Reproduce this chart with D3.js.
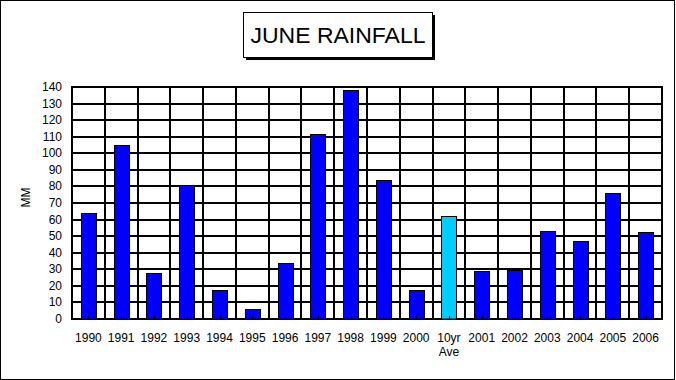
<!DOCTYPE html>
<html>
<head>
<meta charset="utf-8">
<script src="https://cdn.jsdelivr.net/npm/d3@7"></script>
<style>
  html, body { margin: 0; padding: 0; background: #fff; }
  svg { display: block; font-family: "Liberation Sans", Arial, sans-serif; }
</style>
</head>
<body>
<svg id="chart" width="676" height="380"></svg>
<script>
const categories = ["1990","1991","1992","1993","1994","1995","1996","1997","1998","1999","2000","10yr Ave","2001","2002","2003","2004","2005","2006"];
const rainfall = [64, 105, 28, 81, 17.3, 6, 33.6, 111.5, 138, 83.6, 17.3, 62, 29, 29.4, 53, 47, 76, 52.5];
const highlight = ["10yr Ave"];
const yTicks = [0,10,20,30,40,50,60,70,80,90,100,110,120,130,140];
const title = "JUNE RAINFALL";
const yTitle = "MM";

const svg = d3.select("#chart");
const plot = {left: 72, right: 662, top: 87, bottom: 319};

// outer frame
svg.append("rect").attr("x", 0.5).attr("y", 0.5).attr("width", 674).attr("height", 379)
  .attr("fill", "#fff").attr("stroke", "#000").attr("stroke-width", 1);

const y = d3.scaleLinear().domain([0, 140]).range([plot.bottom, plot.top]);
const xCat = d3.scaleBand().domain(categories).range([plot.left, plot.right]).padding(0);
const xBar = d3.scaleBand().domain(categories).range([plot.left, plot.right])
  .paddingInner(0.54).paddingOuter(0.27);

// grid: horizontal
svg.append("g").selectAll("line").data(yTicks).join("line")
  .attr("x1", plot.left).attr("x2", plot.right)
  .attr("y1", d => Math.round(y(d))).attr("y2", d => Math.round(y(d)))
  .attr("stroke", "#000").attr("stroke-width", 2);

// grid: vertical
const vEdges = categories.map(c => xCat(c)).concat([xCat.range()[1]]);
svg.append("g").selectAll("line").data(vEdges).join("line")
  .attr("x1", d => Math.round(d)).attr("x2", d => Math.round(d))
  .attr("y1", plot.top - 1).attr("y2", plot.bottom + 1)
  .attr("stroke", "#000").attr("stroke-width", 2);

// bars
svg.append("g").selectAll("rect").data(categories).join("rect")
  .attr("x", c => Math.round(xBar(c)) + 0.5)
  .attr("y", (c, i) => Math.round(y(rainfall[i])) + 0.5)
  .attr("width", Math.round(xBar.bandwidth()))
  .attr("height", (c, i) => Math.round(y(0)) - Math.round(y(rainfall[i])) - 0.5)
  .attr("fill", c => highlight.includes(c) ? "#00CCFF" : "#0000FF")
  .attr("stroke", "#000").attr("stroke-width", 1);

// small x ticks at category centers
svg.append("g").selectAll("line").data(categories).join("line")
  .attr("x1", c => Math.round(xCat(c) + xCat.bandwidth() / 2) + 0.5)
  .attr("x2", c => Math.round(xCat(c) + xCat.bandwidth() / 2) + 0.5)
  .attr("y1", plot.bottom - 3).attr("y2", plot.bottom)
  .attr("stroke", "#000").attr("stroke-width", 1);

// y tick labels
svg.append("g").selectAll("text").data(yTicks).join("text")
  .attr("x", 62).attr("y", d => y(d) + 4)
  .attr("text-anchor", "end").attr("font-size", 12).attr("fill", "#000")
  .text(d => d);

// x tick labels (multi-line)
const xl = svg.append("g").selectAll("text").data(categories).join("text")
  .attr("x", c => xCat(c) + xCat.bandwidth() / 2)
  .attr("y", 342)
  .attr("text-anchor", "middle").attr("font-size", 12).attr("fill", "#000");
xl.each(function(c) {
  const parts = c.split(" ");
  const t = d3.select(this);
  parts.forEach((p, i) => {
    t.append("tspan").attr("x", xCat(c) + xCat.bandwidth() / 2)
      .attr("dy", i === 0 ? 0 : 14).text(p);
  });
});

// y axis title
svg.append("text").attr("transform", "translate(30,197.5) rotate(-90)")
  .attr("text-anchor", "middle").attr("font-size", 12).attr("fill", "#000")
  .text(yTitle);

// title box with shadow
const tb = {x: 243, y: 12, w: 189, h: 45};
svg.append("rect").attr("x", tb.x + 3).attr("y", tb.y + 3).attr("width", tb.w).attr("height", tb.h)
  .attr("fill", "#000");
svg.append("rect").attr("x", tb.x + 0.5).attr("y", tb.y + 0.5).attr("width", tb.w).attr("height", tb.h)
  .attr("fill", "#fff").attr("stroke", "#000").attr("stroke-width", 1);
svg.append("text").attr("x", tb.x + tb.w / 2 + 0.5).attr("y", 42.5)
  .attr("text-anchor", "middle").attr("font-size", 22).attr("fill", "#000")
  .attr("textLength", 175).attr("lengthAdjust", "spacingAndGlyphs")
  .text(title);
</script>
</body>
</html>
